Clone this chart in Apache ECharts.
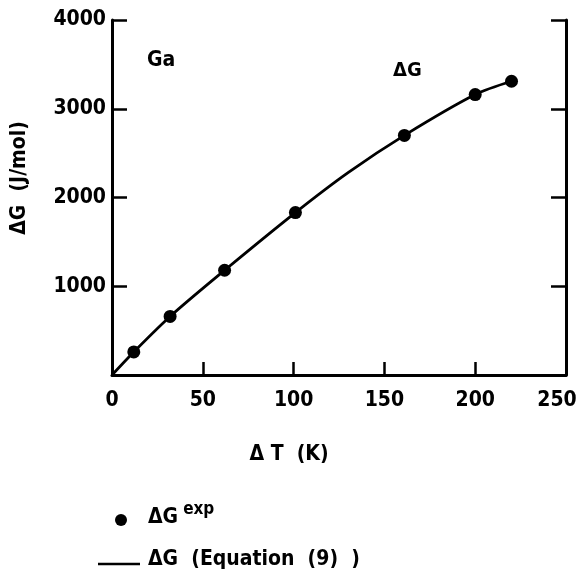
<!DOCTYPE html>
<html>
<head>
<meta charset="utf-8">
<script src="https://cdn.jsdelivr.net/npm/echarts@6/dist/echarts.min.js"></script>
<style>
  html, body { margin: 0; padding: 0; background: #fff; }
  #chart { width: 579px; height: 575px; }
</style>
</head>
<body>
<div id="chart"></div>
<script>
// Undercooling ΔT (K) and free-energy difference ΔG (J/mol) for Ga
const expDeltaT = [12, 32, 62, 101, 161, 200, 220];
const expDeltaG = [260, 660, 1180, 1830, 2700, 3160, 3310];

// Curve from Equation (9)
const eqDeltaT = [0, 12, 32, 62, 101, 130, 161, 200, 220];
const eqDeltaG = [0, 260, 660, 1180, 1830, 2280, 2700, 3160, 3310];

const xTicks = [0, 50, 100, 150, 200, 250];
const yTicks = [0, 1000, 2000, 3000, 4000];

const FONT = '"DejaVu Sans Condensed", "DejaVu Sans", sans-serif';
const INK = '#000';

const chart = echarts.init(document.getElementById('chart'), null, { renderer: 'canvas' });

const axisLineStyle = { color: INK, width: 3 };
const tickStyle = { color: INK, width: 2.5 };
const xMax = xTicks[xTicks.length - 1];

chart.setOption({
  backgroundColor: '#fff',
  animation: false,
  grid: {
    left: 112, right: 13, top: 20, bottom: 200,
    containLabel: false,
    outerBoundsMode: 'none'
  },
  xAxis: {
    type: 'value',
    min: xTicks[0],
    max: xMax,
    interval: 50,
    axisLine: { show: true, onZero: false, lineStyle: axisLineStyle },
    axisTick: { show: true, inside: true, length: 13, lineStyle: tickStyle },
    axisLabel: {
      margin: 15,
      color: INK,
      fontFamily: FONT,
      fontWeight: 'bold',
      fontSize: 21,
      showMinLabel: true,
      showMaxLabel: true,
      hideOverlap: false,
      // the last label sits a little inside the plot edge
      formatter: v => (v === xMax ? '{last|' + v + '}' : String(v)),
      rich: {
        last: {
          fontFamily: FONT, fontWeight: 'bold', fontSize: 21, color: INK,
          padding: [0, 18, 0, 0]
        }
      }
    },
    splitLine: { show: false }
  },
  yAxis: [
    {
      type: 'value',
      position: 'left',
      min: yTicks[0],
      max: yTicks[yTicks.length - 1],
      interval: 1000,
      axisLine: { show: true, onZero: false, lineStyle: axisLineStyle },
      axisTick: { show: true, inside: true, length: 15, lineStyle: tickStyle },
      axisLabel: {
        margin: 6,
        color: INK,
        fontFamily: FONT,
        fontWeight: 'bold',
        fontSize: 21,
        showMinLabel: false,
        formatter: v => (v === 0 ? '' : String(v))
      },
      splitLine: { show: false }
    },
    {
      type: 'value',
      position: 'right',
      min: yTicks[0],
      max: yTicks[yTicks.length - 1],
      interval: 1000,
      axisLine: { show: true, onZero: false, lineStyle: axisLineStyle },
      axisTick: { show: true, inside: true, length: 15, lineStyle: tickStyle },
      axisLabel: { show: false },
      splitLine: { show: false }
    }
  ],
  series: [
    {
      name: 'ΔG (Equation (9) )',
      type: 'line',
      data: eqDeltaT.map((t, i) => [t, eqDeltaG[i]]),
      smooth: 0.3,
      showSymbol: false,
      symbol: 'none',
      lineStyle: { color: INK, width: 2.8 },
      z: 2
    },
    {
      name: 'ΔG exp',
      type: 'scatter',
      data: expDeltaT.map((t, i) => [t, expDeltaG[i]]),
      symbol: 'circle',
      symbolSize: 13,
      itemStyle: { color: INK, opacity: 1 },
      z: 3
    }
  ],
  graphic: [
    // material label
    {
      type: 'text', left: 147, top: 50,
      style: { text: 'Ga', font: 'bold 21px ' + FONT, fill: INK }
    },
    // curve label
    {
      type: 'text', left: 393, top: 61,
      style: { text: 'ΔG', font: 'bold 20px ' + FONT, fill: INK }
    },
    // y-axis title
    {
      type: 'text', x: 9, y: 178, rotation: Math.PI / 2,
      style: {
        text: 'ΔG  (J/mol)', font: 'bold 21px ' + FONT, fill: INK,
        align: 'center', verticalAlign: 'top'
      }
    },
    // x-axis title
    {
      type: 'text', x: 289, y: 455,
      style: {
        text: 'Δ T  (K)', font: 'bold 21px ' + FONT, fill: INK,
        align: 'center', verticalAlign: 'middle'
      }
    },
    // key: experimental points
    {
      type: 'circle', shape: { cx: 121, cy: 520, r: 6 },
      style: { fill: INK }
    },
    {
      type: 'text', left: 148, top: 501,
      style: {
        text: '{m|ΔG}{s|exp}',
        rich: {
          m: { font: 'bold 21px ' + FONT, fill: INK, verticalAlign: 'bottom' },
          s: { font: 'bold 17px ' + FONT, fill: INK, verticalAlign: 'top', padding: [0, 0, 10, 5] }
        }
      }
    },
    // key: equation curve
    {
      type: 'line', shape: { x1: 98, y1: 564, x2: 140, y2: 564 },
      style: { stroke: INK, lineWidth: 2.5 }
    },
    {
      type: 'text', left: 148, top: 549,
      style: { text: 'ΔG  (Equation  (9)  )', font: 'bold 21px ' + FONT, fill: INK }
    }
  ]
});
</script>
</body>
</html>
